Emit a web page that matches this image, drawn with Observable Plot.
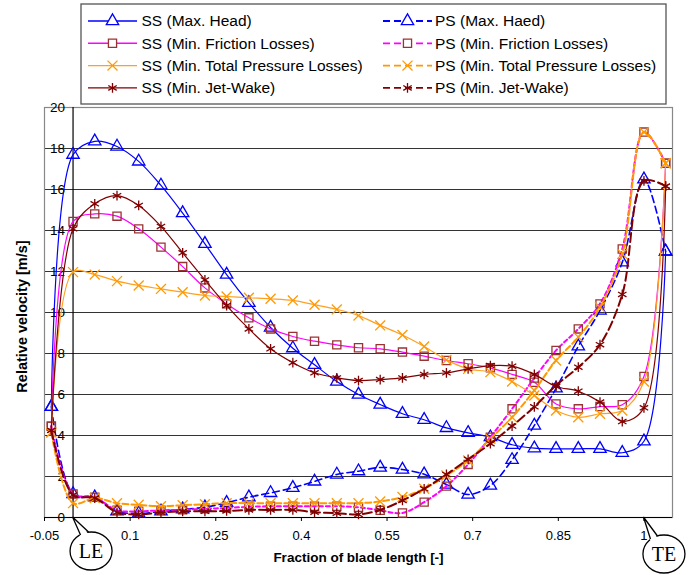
<!DOCTYPE html>
<html>
<head>
<meta charset="utf-8">
<script src="https://cdn.jsdelivr.net/npm/d3@7"></script>
<script src="https://cdn.jsdelivr.net/npm/@observablehq/plot@0.6"></script>
<style>
  html, body { margin: 0; padding: 0; background: white; }
  #chart { position: relative; width: 695px; height: 575px; }
</style>
</head>
<body>
<div id="chart"></div>
<script>
// Fraction of blade length (points along the blade, LE = 0, TE = 1)
const xs = [-0.038, 0, 0.038, 0.077, 0.115, 0.154, 0.192, 0.231, 0.269, 0.308, 0.346, 0.385, 0.423, 0.462, 0.5,
            0.538, 0.577, 0.615, 0.654, 0.692, 0.731, 0.769, 0.808, 0.846, 0.885, 0.923, 0.962, 1, 1.038];

// Relative velocity [m/s]
const ssMaxHead  = [5.4, 17.7, 18.35, 18.1, 17.37, 16.2, 14.85, 13.35, 11.85, 10.47, 9.27, 8.26, 7.45, 6.63, 6.0,
                    5.51, 5.06, 4.77, 4.37, 4.13, 3.92, 3.55, 3.38, 3.35, 3.35, 3.35, 3.16, 3.72, 12.98];
const psMaxHead  = [5.4, 1.15, 0.99, 0.3, 0.2, 0.3, 0.4, 0.5, 0.72, 0.99, 1.2, 1.45, 1.76, 2.1, 2.26,
                    2.44, 2.34, 2.11, 1.61, 1.12, 1.56, 2.81, 4.49, 6.3, 8.35, 10.1, 12.45, 16.5, 12.98];
const ssFriction = [4.45, 14.44, 14.81, 14.7, 14.08, 13.19, 12.24, 11.2, 10.42, 9.74, 9.2, 8.83, 8.6, 8.42, 8.28,
                    8.23, 8.07, 7.87, 7.66, 7.5, 7.3, 6.98, 6.6, 5.54, 5.3, 5.41, 5.5, 6.88, 17.28];
const psFriction = [4.45, 1.15, 0.99, 0.35, 0.3, 0.35, 0.38, 0.42, 0.47, 0.52, 0.55, 0.55, 0.55, 0.55, 0.5,
                    0.35, 0.22, 0.75, 1.53, 2.59, 3.92, 5.3, 6.8, 8.15, 9.2, 10.42, 13.1, 18.8, 17.28];
const ssTotal    = [4.15, 11.97, 11.85, 11.53, 11.32, 11.15, 10.99, 10.83, 10.78, 10.72, 10.67, 10.59, 10.38, 10.15, 9.85,
                    9.37, 8.9, 8.34, 7.69, 7.25, 7.09, 6.63, 5.95, 5.22, 4.89, 5.06, 5.22, 6.63, 17.28];
const psTotal    = [4.15, 0.7, 0.95, 0.7, 0.62, 0.55, 0.6, 0.65, 0.7, 0.7, 0.7, 0.7, 0.7, 0.7, 0.7,
                    0.78, 1.0, 1.4, 2.05, 2.78, 3.84, 4.89, 6.2, 7.66, 8.8, 10.26, 12.86, 18.8, 17.28];
const ssJet      = [4.25, 14.08, 15.3, 15.7, 15.22, 14.2, 12.91, 11.59, 10.34, 9.2, 8.23, 7.55, 7.06, 6.81, 6.68,
                    6.73, 6.81, 6.98, 7.06, 7.25, 7.41, 7.38, 6.98, 6.39, 6.16, 5.63, 4.68, 5.35, 16.16];
const psJet      = [4.25, 1.1, 0.95, 0.25, 0.15, 0.25, 0.3, 0.3, 0.32, 0.37, 0.37, 0.37, 0.26, 0.21, 0.15,
                    0.37, 0.83, 1.4, 2.1, 2.84, 3.6, 4.46, 5.4, 6.44, 7.33, 8.43, 10.88, 16.42, 16.16];

const seriesNames = ["SS (Max. Head)", "PS (Max. Haed)", "SS (Min. Friction Losses)", "PS (Min. Friction Losses)",
                     "SS (Min. Total Pressure Losses)", "PS (Min. Total Pressure Losses)", "SS (Min. Jet-Wake)", "PS (Min. Jet-Wake)"];
const xTicks = [-0.05, 0.1, 0.25, 0.4, 0.55, 0.7, 0.85, 1];
const yTicks = [0, 2, 4, 6, 8, 10, 12, 14, 16, 18, 20];
const xLabel = "Fraction of blade length [-]";
const yLabel = "Relative velocity [m/s]";

// styles
const styles = [
  {values: ssMaxHead,  stroke: "#0000FF", marker: "#0000FF", symbol: "triangle", dash: null,  width: 1.2},
  {values: psMaxHead,  stroke: "#0000FF", marker: "#0000FF", symbol: "triangle", dash: "7,4", width: 1.6},
  {values: ssFriction, stroke: "#FF00FF", marker: "#993333", symbol: "square",   dash: null,  width: 1.2},
  {values: psFriction, stroke: "#FF00FF", marker: "#993333", symbol: "square",   dash: "4,3", width: 2},
  {values: ssTotal,    stroke: "#FFA020", marker: "#FF9900", symbol: "times",    dash: null,  width: 1.2},
  {values: psTotal,    stroke: "#FF9900", marker: "#FF9900", symbol: "times",    dash: "6,3", width: 2},
  {values: ssJet,      stroke: "#800000", marker: "#800000", symbol: "asterisk", dash: null,  width: 1.2},
  {values: psJet,      stroke: "#800000", marker: "#800000", symbol: "asterisk", dash: "9,4", width: 2}
];

const R = 4.6;
const seriesMarks = styles.flatMap((s, k) => {
  const rows = xs.map((x, i) => ({x, y: s.values[i], series: seriesNames[k]}));
  const lineOpts = {x: "x", y: "y", stroke: s.stroke, strokeWidth: s.width, curve: "catmull-rom", clip: "frame"};
  if (s.dash) lineOpts.strokeDasharray = s.dash;
  return [
    Plot.line(rows, lineOpts),
    Plot.dot(rows, {x: "x", y: "y", symbol: s.symbol, r: R, stroke: s.marker, fill: "none", strokeWidth: 1.3})
  ];
});

const chart = Plot.plot({
  width: 695,
  height: 575,
  marginLeft: 44,
  marginRight: 23,
  marginTop: 107,
  marginBottom: 58,
  style: {fontFamily: "'Liberation Sans', Arial, sans-serif", fontSize: "13px", background: "white", color: "black"},
  x: {domain: [-0.05, 1.05]},
  y: {domain: [0, 20]},
  marks: [
    Plot.ruleY(yTicks.filter(d => d > 0 && d < 20), {stroke: "#333", strokeWidth: 1}),
    Plot.frame({stroke: "#888", strokeWidth: 1.2}),
    Plot.ruleY([0], {stroke: "black", strokeWidth: 1.2}),
    Plot.ruleX([0], {stroke: "black", strokeWidth: 1.2}),
    Plot.axisX({ticks: xTicks, tickFormat: d => String(d), tickSize: 4, tickPadding: 9, fontSize: 13, label: null}),
    Plot.axisY({ticks: [], label: null}),
    Plot.text(yTicks, {x: 0, y: d => d, text: d => String(d), textAnchor: "end", dx: -8, fontSize: 13.5}),
    Plot.text([yLabel], {frameAnchor: "left", textAnchor: "middle", dx: -22, dy: 4, rotate: -90, fontWeight: "bold", fontSize: 14.5}),
    Plot.text([xLabel], {frameAnchor: "bottom", textAnchor: "middle", dy: 44, fontWeight: "bold", fontSize: 13.5}),
    ...seriesMarks
  ]
});

document.getElementById("chart").appendChild(chart);

// Legend and LE / TE callouts
const svg = d3.select(chart);
const sx = chart.scale("x"), sy = chart.scale("y");

const lg = svg.append("g").attr("text-anchor", "start");
lg.append("rect").attr("x", 81).attr("y", 4).attr("width", 585).attr("height", 100)
  .attr("fill", "white").attr("stroke", "#555").attr("stroke-width", 1.3);
const symMap = {triangle: d3.symbolTriangle, square: d3.symbolSquare, times: d3.symbolTimes, asterisk: d3.symbolAsterisk};
styles.forEach((s, k) => {
  const col = k % 2, row = Math.floor(k / 2);
  const y = 21 + row * 22.3;
  const x0 = col === 0 ? 88 : 383, x1 = col === 0 ? 137 : 432, tx = col === 0 ? 141.5 : 435;
  const ln = lg.append("line").attr("x1", x0).attr("x2", x1).attr("y1", y).attr("y2", y)
    .attr("stroke", s.stroke).attr("stroke-width", s.dash ? 1.8 : 1.4);
  if (s.dash) ln.attr("stroke-dasharray", "7,4");
  lg.append("path").attr("d", d3.symbol(symMap[s.symbol], Math.PI * R * R)())
    .attr("transform", `translate(${(x0 + x1) / 2},${y})`)
    .attr("fill", "white").attr("stroke", s.marker).attr("stroke-width", 1.3);
  lg.append("text").attr("x", tx).attr("y", y).attr("dy", "0.35em").attr("text-anchor", "start")
    .attr("font-size", 15.5).attr("fill", "black").text(seriesNames[k]);
});

function callout(label, tipX, tipY, cx, cy, b1, b2) {
  const g = svg.append("g");
  g.append("ellipse").attr("cx", cx).attr("cy", cy).attr("rx", 21).attr("ry", 19)
    .attr("fill", "white").attr("stroke", "black").attr("stroke-width", 1.3);
  g.append("path").attr("d", `M${tipX},${tipY}L${b1[0]},${b1[1] + 2}L${b2[0]},${b2[1] + 2}Z`)
    .attr("fill", "white").attr("stroke", "none");
  g.append("path").attr("d", `M${b1[0]},${b1[1]}L${tipX},${tipY}L${b2[0]},${b2[1]}`)
    .attr("fill", "none").attr("stroke", "black").attr("stroke-width", 1.3);
  g.append("text").attr("x", cx).attr("y", cy).attr("dy", "0.35em").attr("text-anchor", "middle")
    .attr("font-family", "'Liberation Serif', 'Times New Roman', serif").attr("font-size", 20)
    .attr("fill", "black").text(label);
}
const x0p = sx.apply(0), x1p = sx.apply(1), y0p = sy.apply(0);
callout("LE", x0p, y0p, x0p + 18.5, y0p + 34, [x0p + 8, y0p + 18], [x0p + 16, y0p + 15]);
callout("TE", x1p, y0p, x1p + 20.5, y0p + 37, [x1p + 7, y0p + 22], [x1p + 14, y0p + 19]);
</script>
</body>
</html>
